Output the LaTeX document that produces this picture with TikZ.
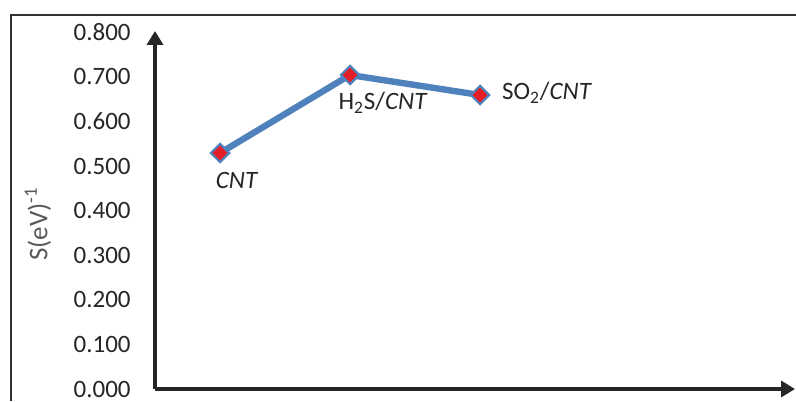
\documentclass[tikz,border=0pt]{standalone}
\usepackage{fontspec}
\setmainfont{Carlito}
\usepackage{xcolor}
\usepackage{tikz}
\usetikzlibrary{arrows.meta,calc,positioning}
\usetikzlibrary{shapes.geometric}
\definecolor{sline}{RGB}{79,129,189}
\definecolor{smark}{RGB}{228,30,38}
\definecolor{slabel}{RGB}{89,89,89}

\begin{document}
\begin{tikzpicture}[
      x=0.5pt, y=-0.5pt,
      font=\fontsize{12.5}{15}\selectfont,
      >={Triangle[length=7pt,width=8pt]},
      axis/.style={line width=2pt, draw=black!85},
      tick/.style={anchor=east, inner sep=0pt, text=black!85},
      point/.style={diamond, fill=smark, draw=sline, line width=1pt, inner sep=0pt, minimum size=9.5pt},
      series/.style={line width=3.2pt, draw=sline},
      ptlabel/.style={inner sep=0pt, text=black!85},
]

\useasboundingbox (0,0) rectangle (796,401);
\draw[line width=1pt, draw=black!80] (11,401) -- (11,15.5) -- (796,15.5);

\coordinate (origin) at (155,389);
\coordinate (ytop) at (155,31);
\coordinate (xend) at (795,389);

% axes
\draw[axis,->] (origin) -- (ytop);
\draw[axis,->] (origin) -- (xend);

% y ticks
\foreach \v [count=\i from 0] in {0.000,0.100,0.200,0.300,0.400,0.500,0.600,0.700,0.800}
  \node[tick] (tick\i) at (131,{389-44.6*\i}) {\v};

\node[rotate=90, text=slabel, font=\fontsize{13.5}{16}\selectfont] (ylabel) at (38,224) {S(eV)\textsuperscript{-1}};

% data
\node[point] (cnt) at (220,153) {};
\node[point] (h2s) at (350,75) {};
\node[point] (so2) at (480,95) {};

\draw[series] (cnt.center) -- (h2s.center) -- (so2.center);
\node[point] at (cnt) {};
\node[point] at (h2s) {};
\node[point] at (so2) {};

\node[ptlabel] (cntlabel) at (237,180) {\textit{CNT}};
\node[ptlabel] (h2slabel) at (383,103) {H\textsubscript{2}S/\textit{CNT}};
\node[ptlabel] (so2label) at (547,93) {SO\textsubscript{2}/\textit{CNT}};

\end{tikzpicture}
\end{document}
